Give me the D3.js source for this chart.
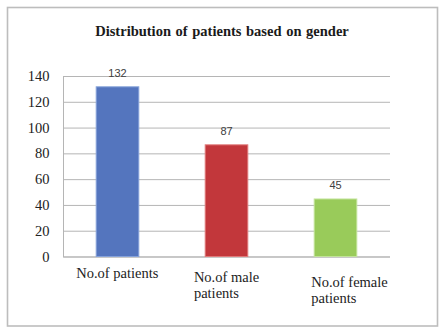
<!DOCTYPE html>
<html>
<head>
<meta charset="utf-8">
<script src="https://cdn.jsdelivr.net/npm/d3@7"></script>
<style>
  body { margin: 0; background: #fff; }
  svg text { font-family: "Liberation Serif", "Times New Roman", serif; }
</style>
</head>
<body>
<script>
// chart values
const categories = ["No.of patients", "No.of male patients", "No.of female patients"];
const labelLines = [["No.of patients"], ["No.of male", "patients"], ["No.of female", "patients"]];
const counts = [132, 87, 45];
const barColors = ["#5475be", "#c2373b", "#99cb5a"];
const edgeColors = ["#86a2da", "#e07a7a", "#c2e39a"];
const yTicks = [0, 20, 40, 60, 80, 100, 120, 140];

const W = 446, H = 335;
const margin = { top: 76, right: 56, bottom: 78.5, left: 63 },
      width = W - margin.left - margin.right,
      height = H - margin.top - margin.bottom;

// small nudges for the wrapped category labels [dx, dy]
const labelShift = [[0, 0], [0, 4], [14, 9]];

let svg = d3.select("body").append("svg")
    .attr("width", W)
    .attr("height", H);

// outer frame
svg.append("rect")
    .attr("x", 7.5).attr("y", 7.5)
    .attr("width", 430).attr("height", 318.5)
    .attr("fill", "#fff")
    .attr("stroke", "#bdbdbd")
    .attr("stroke-width", 1.6);

svg.append("text")
    .attr("x", 222).attr("y", 36)
    .attr("text-anchor", "middle")
    .style("font-weight", "bold")
    .style("font-size", "14.5px")
    .style("word-spacing", "1px")
    .style("fill", "#1a1a1a")
    .text("Distribution of patients based on gender");

let g = svg.append("g")
    .attr("transform", "translate(" + margin.left + "," + margin.top + ")");

let x = d3.scaleBand().domain(categories).range([0, width])
    .paddingInner(0.6).paddingOuter(0.3);
let y = d3.scaleLinear().domain([0, 140]).range([height, 0]);

// gridlines + y labels
let yAxis = g.append("g")
    .call(d3.axisLeft(y).tickValues(yTicks).tickSize(-width).tickPadding(13.5));
yAxis.select(".domain").attr("stroke", "#b5b5b5");
yAxis.selectAll(".tick line").attr("stroke", "#b5b5b5");
yAxis.selectAll(".tick text")
    .style("font-family", "'Liberation Serif', serif")
    .style("font-size", "14.5px")
    .style("fill", "#222");

// bars
g.selectAll(".bar")
    .data(counts)
    .enter().append("rect")
    .attr("class", "bar")
    .attr("x", (d, i) => x(categories[i]) + 0.5)
    .attr("y", d => y(d) + 0.5)
    .attr("width", x.bandwidth() - 1)
    .attr("height", d => height - y(d) - 0.5)
    .attr("fill", (d, i) => barColors[i])
    .attr("stroke", (d, i) => edgeColors[i])
    .attr("stroke-width", 1);

// value labels
g.selectAll(".val")
    .data(counts)
    .enter().append("text")
    .attr("class", "val")
    .attr("x", (d, i) => x(categories[i]) + x.bandwidth() / 2)
    .attr("y", d => y(d) - 9)
    .attr("text-anchor", "middle")
    .style("font-family", "'Liberation Sans', Arial, sans-serif")
    .style("font-size", "11px")
    .style("fill", "#404040")
    .text(d => d);

// category labels, left-aligned blocks centred under each bar
let cat = g.selectAll(".cat")
    .data(categories)
    .enter().append("text")
    .attr("class", "cat")
    .style("font-size", "14.5px")
    .style("fill", "#222");

cat.each(function (c, i) {
    let t = d3.select(this);
    labelLines[i].forEach((line, k) => {
        t.append("tspan").attr("dy", k === 0 ? 0 : 15.5).attr("x", 0).text(line);
    });
    let w = this.getBBox().width;
    let cx = x(c) + x.bandwidth() / 2;
    t.attr("transform", "translate(" + (cx - w / 2 + labelShift[i][0]) + "," +
        (height + 21.5 + labelShift[i][1]) + ")");
});
</script>
</body>
</html>
